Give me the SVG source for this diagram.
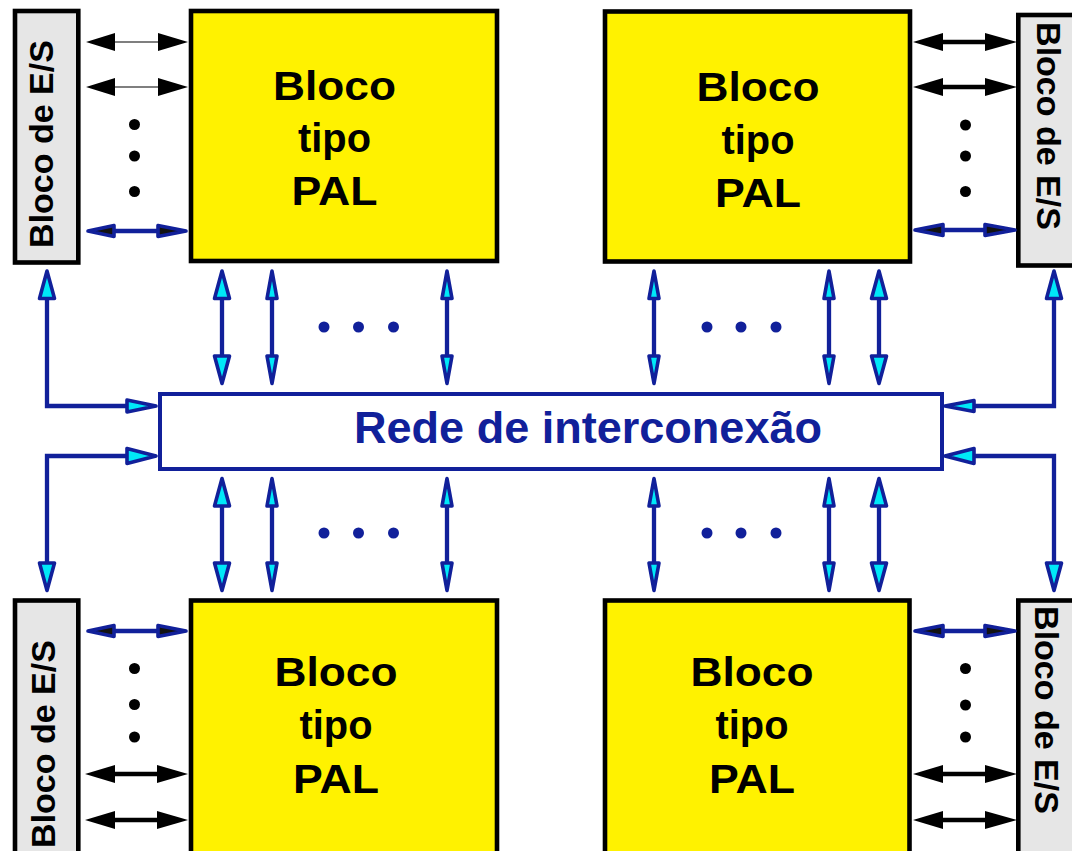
<svg xmlns="http://www.w3.org/2000/svg" width="1072" height="851" viewBox="0 0 1072 851">
<style>
.pal{fill:#fff200;stroke:#000;stroke-width:4.6}
.io{fill:#e6e6e6;stroke:#000;stroke-width:4.6}
.rede{fill:#fff;stroke:#11209a;stroke-width:4}
.t{font-family:"Liberation Sans",Arial,sans-serif;font-weight:bold;text-anchor:middle}
.pt{font-size:41px;fill:#000}
.iot{font-size:34px;fill:#000}
.rt{font-size:45px;fill:#11209a}
.bl{stroke:#11209a;stroke-width:4.3;fill:none}
.ch{fill:#00e8f8;stroke:#11209a;stroke-width:3.6;stroke-linejoin:round}
.bh{fill:#111;stroke:#11209a;stroke-width:3.6;stroke-linejoin:round}
.kh{fill:#000}
.kl{stroke:#000;stroke-width:4.5}
.kt{stroke:#000;stroke-width:1.2}
.dk{fill:#000}
.db{fill:#11209a}
</style>

<g id="pal-tl">
<rect class="pal" x="191" y="11" width="306" height="250"/>
<text class="t pt" x="334.5" y="99.5" textLength="123" lengthAdjust="spacingAndGlyphs">Bloco</text>
<text class="t pt" x="334.5" y="152" textLength="73" lengthAdjust="spacingAndGlyphs">tipo</text>
<text class="t pt" x="334.5" y="205" textLength="86" lengthAdjust="spacingAndGlyphs">PAL</text>
</g>
<g id="pal-tr">
<rect class="pal" x="605" y="11.5" width="305" height="250"/>
<text class="t pt" x="758" y="101" textLength="123" lengthAdjust="spacingAndGlyphs">Bloco</text>
<text class="t pt" x="758" y="153.5" textLength="73" lengthAdjust="spacingAndGlyphs">tipo</text>
<text class="t pt" x="758" y="206.5" textLength="86" lengthAdjust="spacingAndGlyphs">PAL</text>
</g>
<g id="pal-bl">
<rect class="pal" x="191" y="600.5" width="306" height="270"/>
<text class="t pt" x="336" y="686" textLength="123" lengthAdjust="spacingAndGlyphs">Bloco</text>
<text class="t pt" x="336" y="739" textLength="73" lengthAdjust="spacingAndGlyphs">tipo</text>
<text class="t pt" x="336" y="793" textLength="86" lengthAdjust="spacingAndGlyphs">PAL</text>
</g>
<g id="pal-br">
<rect class="pal" x="605" y="600.5" width="304.5" height="270"/>
<text class="t pt" x="752" y="686" textLength="123" lengthAdjust="spacingAndGlyphs">Bloco</text>
<text class="t pt" x="752" y="739" textLength="73" lengthAdjust="spacingAndGlyphs">tipo</text>
<text class="t pt" x="752" y="793" textLength="86" lengthAdjust="spacingAndGlyphs">PAL</text>
</g>

<g id="io-tl">
<rect class="io" x="15" y="11" width="63.3" height="251.5"/>
<text class="t iot" transform="translate(53,144) rotate(-90)">Bloco de E/S</text>
</g>
<g id="io-tr">
<rect class="io" x="1018.3" y="15" width="70" height="250.5"/>
<text class="t iot" transform="translate(1037,126) rotate(90)">Bloco de E/S</text>
</g>
<g id="io-bl">
<rect class="io" x="15" y="600.5" width="63.3" height="270"/>
<text class="t iot" transform="translate(55,744) rotate(-90)">Bloco de E/S</text>
</g>
<g id="io-br">
<rect class="io" x="1018.3" y="600.5" width="70" height="270"/>
<text class="t iot" transform="translate(1035,710) rotate(90)">Bloco de E/S</text>
</g>

<g id="rede">
<rect class="rede" x="160" y="394" width="782" height="75"/>
<text class="t rt" x="588" y="443" textLength="468" lengthAdjust="spacingAndGlyphs">Rede de interconexão</text>
</g>

<g id="connectors">
<!-- top-left horizontal -->
<line class="kt" x1="112" y1="42" x2="160" y2="42"/>
<polygon class="kh" points="86,42 115,33 115,51"/><polygon class="kh" points="188,42 158,33 158,51"/>
<line class="kt" x1="112" y1="87" x2="160" y2="87"/>
<polygon class="kh" points="86,87 115,78 115,96"/><polygon class="kh" points="188,87 158,78 158,96"/>
<line class="bl" x1="112" y1="231" x2="160" y2="231"/>
<polygon class="bh" points="88,231 114,225.5 114,236.5"/><polygon class="bh" points="186,231 158,225.5 158,236.5"/>
<!-- top-right horizontal -->
<line class="kl" x1="940" y1="42" x2="988" y2="42"/>
<polygon class="kh" points="913,42 943,33 943,51"/><polygon class="kh" points="1017,42 985,33 985,51"/>
<line class="kl" x1="940" y1="87" x2="988" y2="87"/>
<polygon class="kh" points="913,87 943,78 943,96"/><polygon class="kh" points="1017,87 985,78 985,96"/>
<line class="bl" x1="940" y1="230" x2="988" y2="230"/>
<polygon class="bh" points="915,230 943,224.5 943,235.5"/><polygon class="bh" points="1015,230 985,224.5 985,235.5"/>
<!-- bottom-left horizontal -->
<line class="bl" x1="112" y1="631" x2="160" y2="631"/>
<polygon class="bh" points="88,631 114,625.5 114,636.5"/><polygon class="bh" points="186,631 158,625.5 158,636.5"/>
<line class="kl" x1="112" y1="774" x2="160" y2="774"/>
<polygon class="kh" points="85,774 115,765 115,783"/><polygon class="kh" points="188,774 157,765 157,783"/>
<line class="kl" x1="112" y1="820" x2="160" y2="820"/>
<polygon class="kh" points="85,820 115,811 115,829"/><polygon class="kh" points="188,820 157,811 157,829"/>
<!-- bottom-right horizontal -->
<line class="bl" x1="940" y1="631" x2="988" y2="631"/>
<polygon class="bh" points="915,631 943,625.5 943,636.5"/><polygon class="bh" points="1015,631 985,625.5 985,636.5"/>
<line class="kl" x1="940" y1="774" x2="988" y2="774"/>
<polygon class="kh" points="913,774 943,765 943,783"/><polygon class="kh" points="1017,774 985,765 985,783"/>
<line class="kl" x1="940" y1="820" x2="988" y2="820"/>
<polygon class="kh" points="913,820 943,811 943,829"/><polygon class="kh" points="1017,820 985,811 985,829"/>

<!-- vertical arrows top -->
<line class="bl" x1="222" y1="296" x2="222" y2="358"/>
<polygon class="ch" points="222,271 214.5,298.5 229.5,298.5"/><polygon class="ch" points="222,383.5 214.5,356 229.5,356"/>
<line class="bl" x1="272" y1="296" x2="272" y2="358"/>
<polygon class="ch" points="272,271 267,298.5 277,298.5"/><polygon class="ch" points="272,383.5 267,356 277,356"/>
<line class="bl" x1="447" y1="296" x2="447" y2="358"/>
<polygon class="ch" points="447,271 442,298.5 452,298.5"/><polygon class="ch" points="447,383.5 442,356 452,356"/>
<line class="bl" x1="654" y1="296" x2="654" y2="358"/>
<polygon class="ch" points="654,271 649,298.5 659,298.5"/><polygon class="ch" points="654,383.5 649,356 659,356"/>
<line class="bl" x1="829" y1="296" x2="829" y2="358"/>
<polygon class="ch" points="829,271 824,298.5 834,298.5"/><polygon class="ch" points="829,383.5 824,356 834,356"/>
<line class="bl" x1="879" y1="296" x2="879" y2="358"/>
<polygon class="ch" points="879,271 871.5,298.5 886.5,298.5"/><polygon class="ch" points="879,383.5 871.5,356 886.5,356"/>
<!-- vertical arrows bottom -->
<line class="bl" x1="222" y1="504" x2="222" y2="565"/>
<polygon class="ch" points="222,478.5 214.5,506 229.5,506"/><polygon class="ch" points="222,590.5 214.5,563 229.5,563"/>
<line class="bl" x1="272" y1="504" x2="272" y2="565"/>
<polygon class="ch" points="272,478.5 267,506 277,506"/><polygon class="ch" points="272,590.5 267,563 277,563"/>
<line class="bl" x1="447" y1="504" x2="447" y2="565"/>
<polygon class="ch" points="447,478.5 442,506 452,506"/><polygon class="ch" points="447,590.5 442,563 452,563"/>
<line class="bl" x1="654" y1="504" x2="654" y2="565"/>
<polygon class="ch" points="654,478.5 649,506 659,506"/><polygon class="ch" points="654,590.5 649,563 659,563"/>
<line class="bl" x1="829" y1="504" x2="829" y2="565"/>
<polygon class="ch" points="829,478.5 824,506 834,506"/><polygon class="ch" points="829,590.5 824,563 834,563"/>
<line class="bl" x1="879" y1="504" x2="879" y2="565"/>
<polygon class="ch" points="879,478.5 871.5,506 886.5,506"/><polygon class="ch" points="879,590.5 871.5,563 886.5,563"/>

<!-- L connectors -->
<path class="bl" d="M47,296 V406 H128"/>
<polygon class="ch" points="47,271 39.5,298.5 54.5,298.5"/>
<polygon class="ch" points="156,406 127,400 127,412"/>
<path class="bl" d="M128,456 H47 V565"/>
<polygon class="ch" points="156,456 127,448.5 127,463.5"/>
<polygon class="ch" points="47,590.5 39.5,563 54.5,563"/>
<path class="bl" d="M1054,296 V406 H973"/>
<polygon class="ch" points="1054,271 1046.5,298.5 1061.5,298.5"/>
<polygon class="ch" points="945,406 974,400.5 974,411.5"/>
<path class="bl" d="M973,456 H1054 V565"/>
<polygon class="ch" points="945,456 974,448.5 974,463.5"/>
<polygon class="ch" points="1054,590.5 1046.5,563 1061.5,563"/>
</g>

<g id="dots">
<circle class="dk" cx="134.5" cy="124.5" r="5.5"/><circle class="dk" cx="134.5" cy="156" r="5.5"/><circle class="dk" cx="134.5" cy="191.5" r="5.5"/>
<circle class="dk" cx="965.5" cy="125" r="5.5"/><circle class="dk" cx="965.5" cy="156" r="5.5"/><circle class="dk" cx="965.5" cy="191.5" r="5.5"/>
<circle class="dk" cx="134.5" cy="668.5" r="5.5"/><circle class="dk" cx="134.5" cy="704.5" r="5.5"/><circle class="dk" cx="134.5" cy="737" r="5.5"/>
<circle class="dk" cx="965.5" cy="668.5" r="5.5"/><circle class="dk" cx="965.5" cy="705" r="5.5"/><circle class="dk" cx="965.5" cy="737" r="5.5"/>
<circle class="db" cx="324" cy="327" r="5.5"/><circle class="db" cx="358.5" cy="327" r="5.5"/><circle class="db" cx="393.5" cy="327" r="5.5"/>
<circle class="db" cx="707" cy="327" r="5.5"/><circle class="db" cx="741" cy="327" r="5.5"/><circle class="db" cx="776" cy="327" r="5.5"/>
<circle class="db" cx="324" cy="533" r="5.5"/><circle class="db" cx="358.5" cy="533" r="5.5"/><circle class="db" cx="393.5" cy="533" r="5.5"/>
<circle class="db" cx="707" cy="533" r="5.5"/><circle class="db" cx="741" cy="533" r="5.5"/><circle class="db" cx="776" cy="533" r="5.5"/>
</g>
</svg>
